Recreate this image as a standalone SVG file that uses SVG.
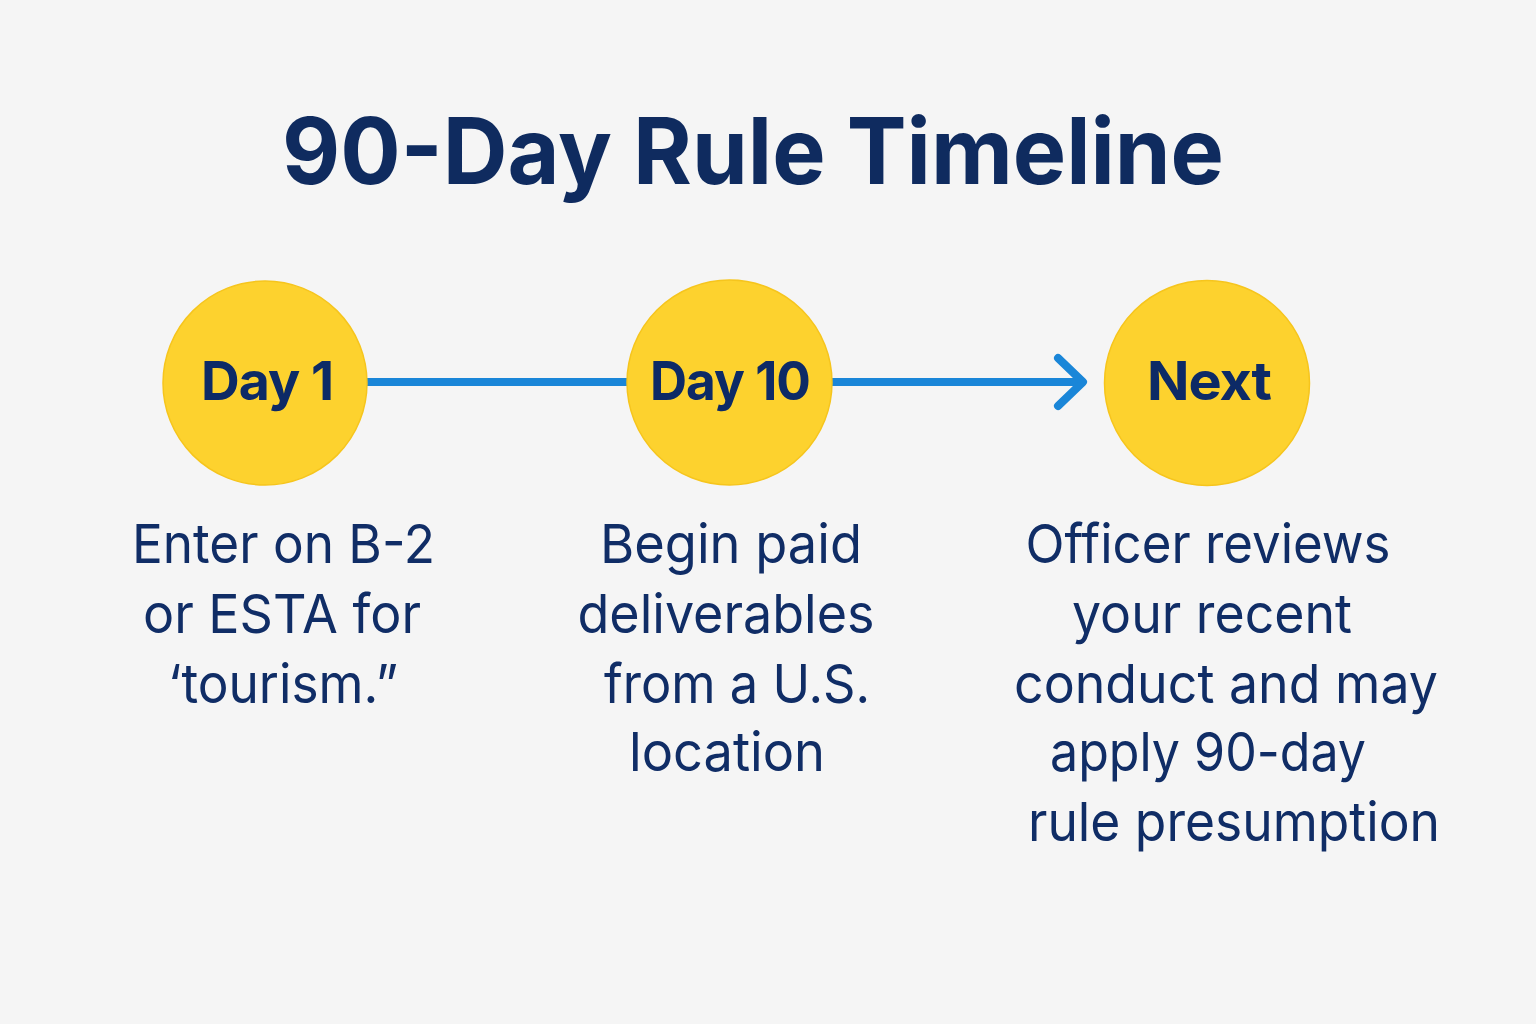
<svg xmlns="http://www.w3.org/2000/svg" width="1536" height="1024" viewBox="0 0 1536 1024">
<style>
.title{font-family:Inter,"Open Sans","Liberation Sans",sans-serif;font-weight:700;font-size:92px;fill:#0f2b5f;text-anchor:middle}
.node circle{fill:#fdd22e;stroke:#f6c51d;stroke-width:1.5}
.node text{font-family:Inter,"Open Sans","Liberation Sans",sans-serif;font-weight:700;font-size:54px;fill:#0d2a66;text-anchor:middle;letter-spacing:-1px}
.body{font-family:Inter,"Open Sans","Liberation Sans",sans-serif;font-weight:400;font-size:54px;fill:#102d66;text-anchor:middle}
.conn{stroke:#1a86d8;stroke-width:8;fill:none;stroke-linecap:round;stroke-linejoin:round}
</style>
<rect width="1536" height="1024" fill="#f5f5f5"/>
<text class="title" x="753" y="184" textLength="942" lengthAdjust="spacingAndGlyphs">90-Day Rule Timeline</text>
<g id="connectors">
<line class="conn" x1="367" y1="382" x2="627" y2="382" style="stroke-linecap:butt"/>
<line class="conn" x1="832" y1="382" x2="1082" y2="382" style="stroke-linecap:butt"/>
<polyline class="conn" points="1058,358 1083,382 1058,406"/>
</g>
<g id="node-day1" class="node">
<circle cx="265" cy="383" r="102"/>
<text x="267" y="400" textLength="132" lengthAdjust="spacingAndGlyphs">Day 1</text>
</g>
<g id="node-day10" class="node">
<circle cx="729.5" cy="382.5" r="102.5"/>
<text x="730" y="400" textLength="160" lengthAdjust="spacingAndGlyphs">Day 10</text>
</g>
<g id="node-next" class="node">
<circle cx="1207" cy="383" r="102.5"/>
<text x="1209" y="400" textLength="124" lengthAdjust="spacingAndGlyphs">Next</text>
</g>
<g id="desc-day1">
<text class="body" x="283.5" y="563" textLength="303" lengthAdjust="spacingAndGlyphs">Enter on B-2</text>
<text class="body" x="282" y="633" textLength="278" lengthAdjust="spacingAndGlyphs">or ESTA for</text>
<text class="body" x="283" y="703" textLength="230" lengthAdjust="spacingAndGlyphs">‘tourism.”</text>
</g>
<g id="desc-day10">
<text class="body" x="731" y="563" textLength="262" lengthAdjust="spacingAndGlyphs">Begin paid</text>
<text class="body" x="726" y="633" textLength="297" lengthAdjust="spacingAndGlyphs">deliverables</text>
<text class="body" x="737" y="703" textLength="266" lengthAdjust="spacingAndGlyphs">from a U.S.</text>
<text class="body" x="727" y="771" textLength="196" lengthAdjust="spacingAndGlyphs">location</text>
</g>
<g id="desc-next">
<text class="body" x="1208" y="563" textLength="365" lengthAdjust="spacingAndGlyphs">Officer reviews</text>
<text class="body" x="1212" y="633" textLength="280" lengthAdjust="spacingAndGlyphs">your recent</text>
<text class="body" x="1226" y="703" textLength="424" lengthAdjust="spacingAndGlyphs">conduct and may</text>
<text class="body" x="1208" y="771" textLength="316" lengthAdjust="spacingAndGlyphs">apply 90-day</text>
<text class="body" x="1234" y="841" textLength="412" lengthAdjust="spacingAndGlyphs">rule presumption</text>
</g>
</svg>
